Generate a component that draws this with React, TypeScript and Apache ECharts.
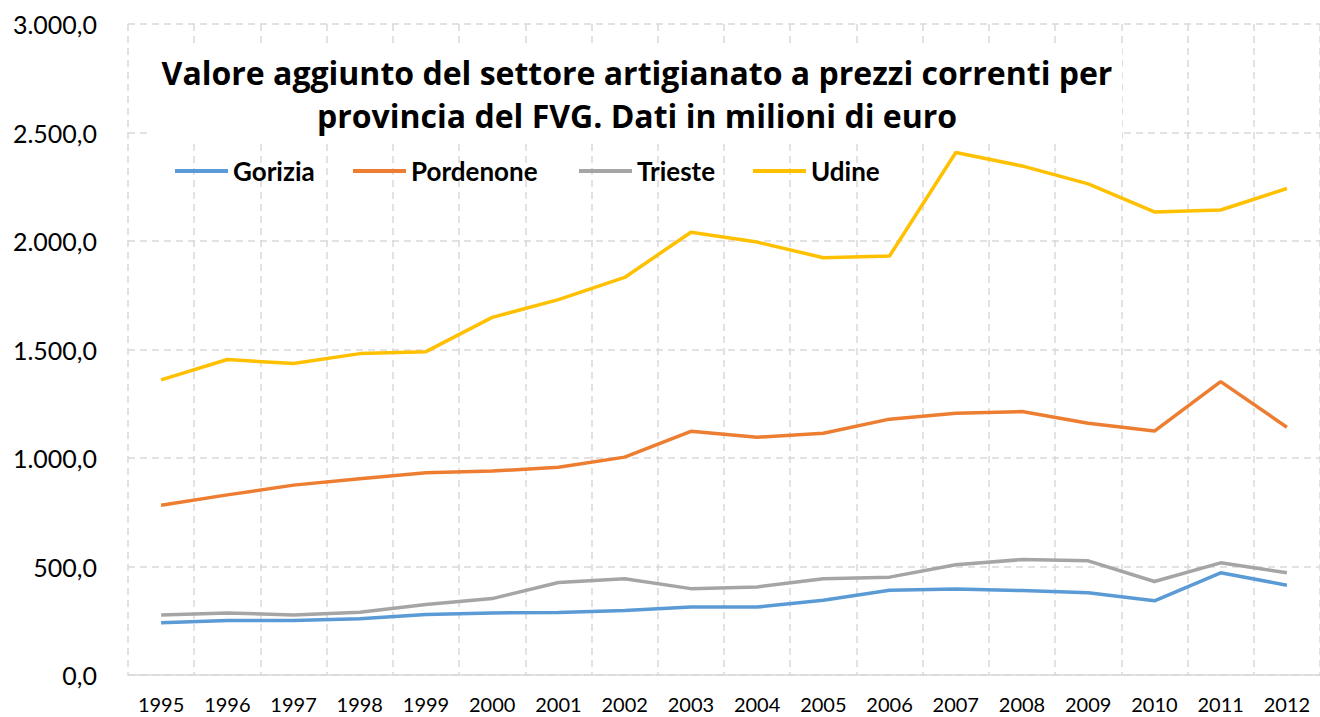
import React, { useEffect, useRef } from "react";
import * as echarts from "echarts";

const years = ["1995","1996","1997","1998","1999","2000","2001","2002","2003","2004","2005","2006","2007","2008","2009","2010","2011","2012"];
const gorizia = [241, 251, 251, 259, 279, 286, 288, 297, 313, 313, 344, 391, 396, 389, 379, 342, 471, 414];
const pordenone = [782, 830, 875, 904, 932, 940, 957, 1004, 1123, 1096, 1114, 1179, 1206, 1214, 1160, 1124, 1352, 1142];
const trieste = [277, 286, 277, 289, 325, 352, 426, 444, 398, 406, 444, 451, 508, 532, 526, 431, 517, 471];
const udine = [1360, 1454, 1435, 1481, 1490, 1648, 1730, 1832, 2040, 1995, 1923, 1931, 2408, 2346, 2263, 2134, 2143, 2242];

const seriesNames = ["Gorizia", "Pordenone", "Trieste", "Udine"];
const seriesColors = ["#5B9BD5", "#ED7D31", "#A5A5A5", "#FFC000"];
const seriesData = [gorizia, pordenone, trieste, udine];
const legendLeft = [170, 348, 574, 748];

const titleLines = [
  "Valore aggiunto del settore artigianato a prezzi correnti per",
  "provincia del FVG. Dati in milioni di euro",
];

const FONT = "Lato, 'Noto Sans', sans-serif";
const TITLE_FONT = "'Open Sans', Lato, sans-serif";

function fmtIt(v: number): string {
  const s = Math.round(v).toString();
  const withDots = s.replace(/\B(?=(\d{3})+(?!\d))/g, ".");
  return withDots + ",0";
}

export default function App() {
  const ref = useRef<HTMLDivElement>(null);
  useEffect(() => {
    if (!ref.current) return;
    const chart = echarts.init(ref.current, null, { renderer: "svg" });
    const gridLine = { show: true, lineStyle: { color: "#d9d9d9", width: 1.5, type: [7, 5] as any } };
    chart.setOption({
      animation: false,
      backgroundColor: "#ffffff",
      grid: { left: 128, right: 0, top: 24, bottom: 42, containLabel: false },
      xAxis: {
        type: "category",
        data: years,
        boundaryGap: true,
        axisLine: { show: true, lineStyle: { color: "#d9d9d9", width: 1.5 } },
        axisTick: { show: false },
        splitLine: gridLine,
        axisLabel: { color: "#000", fontFamily: FONT, fontSize: 20, lineHeight: 20, margin: 19, interval: 0 },
      },
      yAxis: {
        type: "value",
        min: 0,
        max: 3000,
        interval: 500,
        axisLine: { show: false },
        axisTick: { show: false },
        splitLine: gridLine,
        axisLabel: { color: "#000", fontFamily: FONT, fontSize: 25, margin: 31, formatter: (v: number) => fmtIt(v) },
      },
      legend: seriesNames.map((n, i) => ({
        data: [n],
        left: legendLeft[i],
        top: 153,
        icon: "rect",
        itemWidth: 53,
        itemHeight: 4,
        itemGap: 0,
        textStyle: { color: "#000", fontFamily: FONT, fontSize: 26, fontWeight: "bold" },
      })),
      graphic: [
        { type: "rect", z: 1, shape: { x: 150, y: 43, width: 972, height: 97 }, style: { fill: "#ffffff" } },
        { type: "text", z: 2, x: 637, y: 72, style: { text: titleLines[0], fill: "#000", font: `bold 32px ${TITLE_FONT}`, textAlign: "center", textVerticalAlign: "middle" } },
        { type: "text", z: 2, x: 637, y: 115, style: { text: titleLines[1], fill: "#000", font: `bold 32px ${TITLE_FONT}`, textAlign: "center", textVerticalAlign: "middle" } },
      ],
      series: seriesNames.map((n, i) => ({
        name: n,
        type: "line",
        data: seriesData[i],
        showSymbol: false,
        symbol: "none",
        lineStyle: { color: seriesColors[i], width: 3.5 },
        itemStyle: { color: seriesColors[i] },
        z: 3 + i,
      })),
    });
    return () => chart.dispose();
  }, []);
  return <div ref={ref} style={{ position: "fixed", left: 0, top: 0, width: 1320, height: 717 }} />;
}
